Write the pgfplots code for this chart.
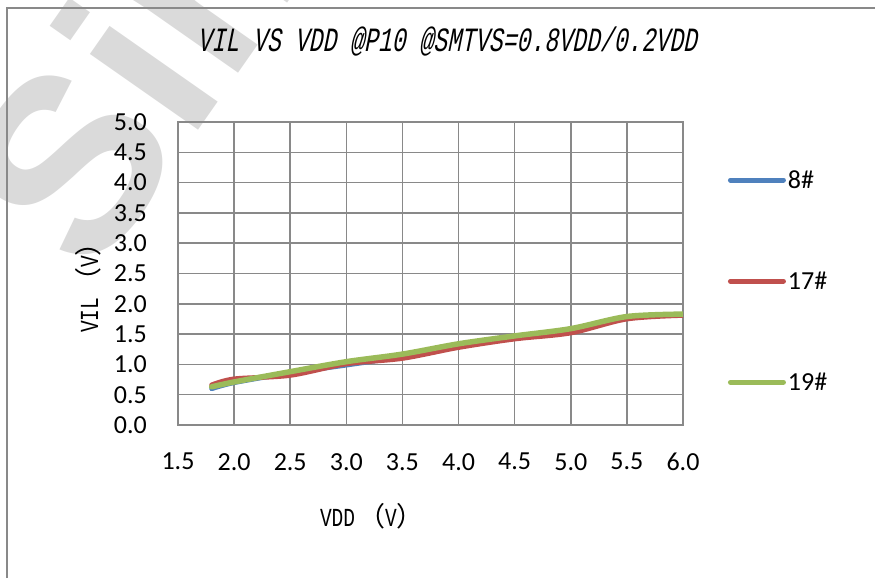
\documentclass[border=0pt]{standalone}
\usepackage{fontspec}
\usepackage{pgfplots}
\pgfplotsset{compat=1.18}
\setmainfont{Carlito}
\newfontfamily\titlefont[FakeStretch=0.68, FakeSlant=0.2]{Liberation Mono}
\newfontfamily\labfont[FakeStretch=0.75]{Liberation Mono}
\newfontfamily\cjk{Noto Sans CJK SC}
\newfontfamily\wmfont{Liberation Sans}
\definecolor{sblue}{HTML}{4F81BD}
\definecolor{sred}{HTML}{C0504D}
\definecolor{sgreen}{HTML}{9BBB59}
\definecolor{gridgray}{HTML}{898989}
\definecolor{wm}{HTML}{DADADA}
\begin{document}
\begin{tikzpicture}
\useasboundingbox (0,0) rectangle (875pt,578pt);
\begin{scope}
\clip (0,0) rectangle (875pt,578pt);
\node[rotate=55, text=wm, font={\wmfont\fontsize{250pt}{250pt}\selectfont\bfseries}] at (175pt,570pt) {Sino};
\end{scope}
\draw[gridgray, line width=1.5pt] (7pt,0pt) -- (7pt,570pt) -- (880pt,570pt);
\begin{axis}[
  at={(178pt,153pt)}, anchor=south west,
  scale only axis, width=505pt, height=303pt,
  xmin=1.5, xmax=6, ymin=0, ymax=5,
  xtick={1.5,2,2.5,3,3.5,4,4.5,5,5.5,6},
  ytick={0,0.5,1,1.5,2,2.5,3,3.5,4,4.5,5},
  grid=major,
  major grid style={gridgray, line width=1.5pt},
  axis line style={gridgray, line width=1.5pt},
  major tick length=0pt,
  tick label style={font=\fontsize{26pt}{26pt}\selectfont, inner sep=0pt},
  x tick label style={anchor=north, yshift=-28pt},
  y tick label style={anchor=east, xshift=-31pt},
  /pgf/number format/assume math mode=true,
  /pgf/number format/.cd, fixed, fixed zerofill, precision=1, /pgfplots/.cd,
  xlabel={{\labfont VDD}\hspace{3pt}{\cjk\fontsize{27pt}{27pt}\selectfont （}{\labfont V}{\cjk\fontsize{27pt}{27pt}\selectfont ）}},
  ylabel={{\labfont VIL}\hspace{3pt}{\cjk\fontsize{27pt}{27pt}\selectfont （}{\labfont V}{\cjk\fontsize{27pt}{27pt}\selectfont ）}},
  label style={font=\labfont\fontsize{26pt}{26pt}\selectfont, inner sep=0pt},
  xlabel style={at={(axis description cs:0.384,-0.3366)}, anchor=base},
  ylabel style={at={(axis description cs:-0.158,0.475)}, anchor=base, rotate=0},
  title={VIL VS VDD @P10 @SMTVS=0.8VDD/0.2VDD},
  title style={font=\titlefont\fontsize{34pt}{34pt}\selectfont, inner sep=0pt, at={(axis description cs:0.533,1.2145)}, anchor=base},
  legend style={draw=none, fill=none, at={(axis description cs:1.089,0.475)}, anchor=west,
    font=\fontsize{26pt}{26pt}\selectfont, row sep=78pt, inner sep=0pt, outer sep=0pt,
    nodes={inner sep=2pt}},
  legend cell align=left,
  legend image code/.code={\draw[#1, line width=5pt, line cap=round] (0pt,0pt) -- (53pt,0pt);},
  every axis plot/.append style={line width=5pt, line cap=round, line join=round, smooth, tension=0.5, mark=none},
]
\addplot[sblue] coordinates {(1.8,0.60) (2.0,0.70) (2.5,0.86) (3.0,0.99) (3.5,1.13) (4.0,1.31) (4.5,1.46) (5.0,1.57) (5.5,1.77) (6.0,1.82)};
\addlegendentry{8\#}
\addplot[sred] coordinates {(1.8,0.66) (2.0,0.76) (2.5,0.82) (3.0,1.01) (3.5,1.10) (4.0,1.28) (4.5,1.42) (5.0,1.52) (5.5,1.75) (6.0,1.81)};
\addlegendentry{17\#}
\addplot[sgreen, line width=5.5pt] coordinates {(1.8,0.63) (2.0,0.71) (2.5,0.88) (3.0,1.045) (3.5,1.17) (4.0,1.34) (4.5,1.47) (5.0,1.59) (5.5,1.79) (6.0,1.83)};
\addlegendentry{19\#}
\end{axis}
\end{tikzpicture}
\end{document}
